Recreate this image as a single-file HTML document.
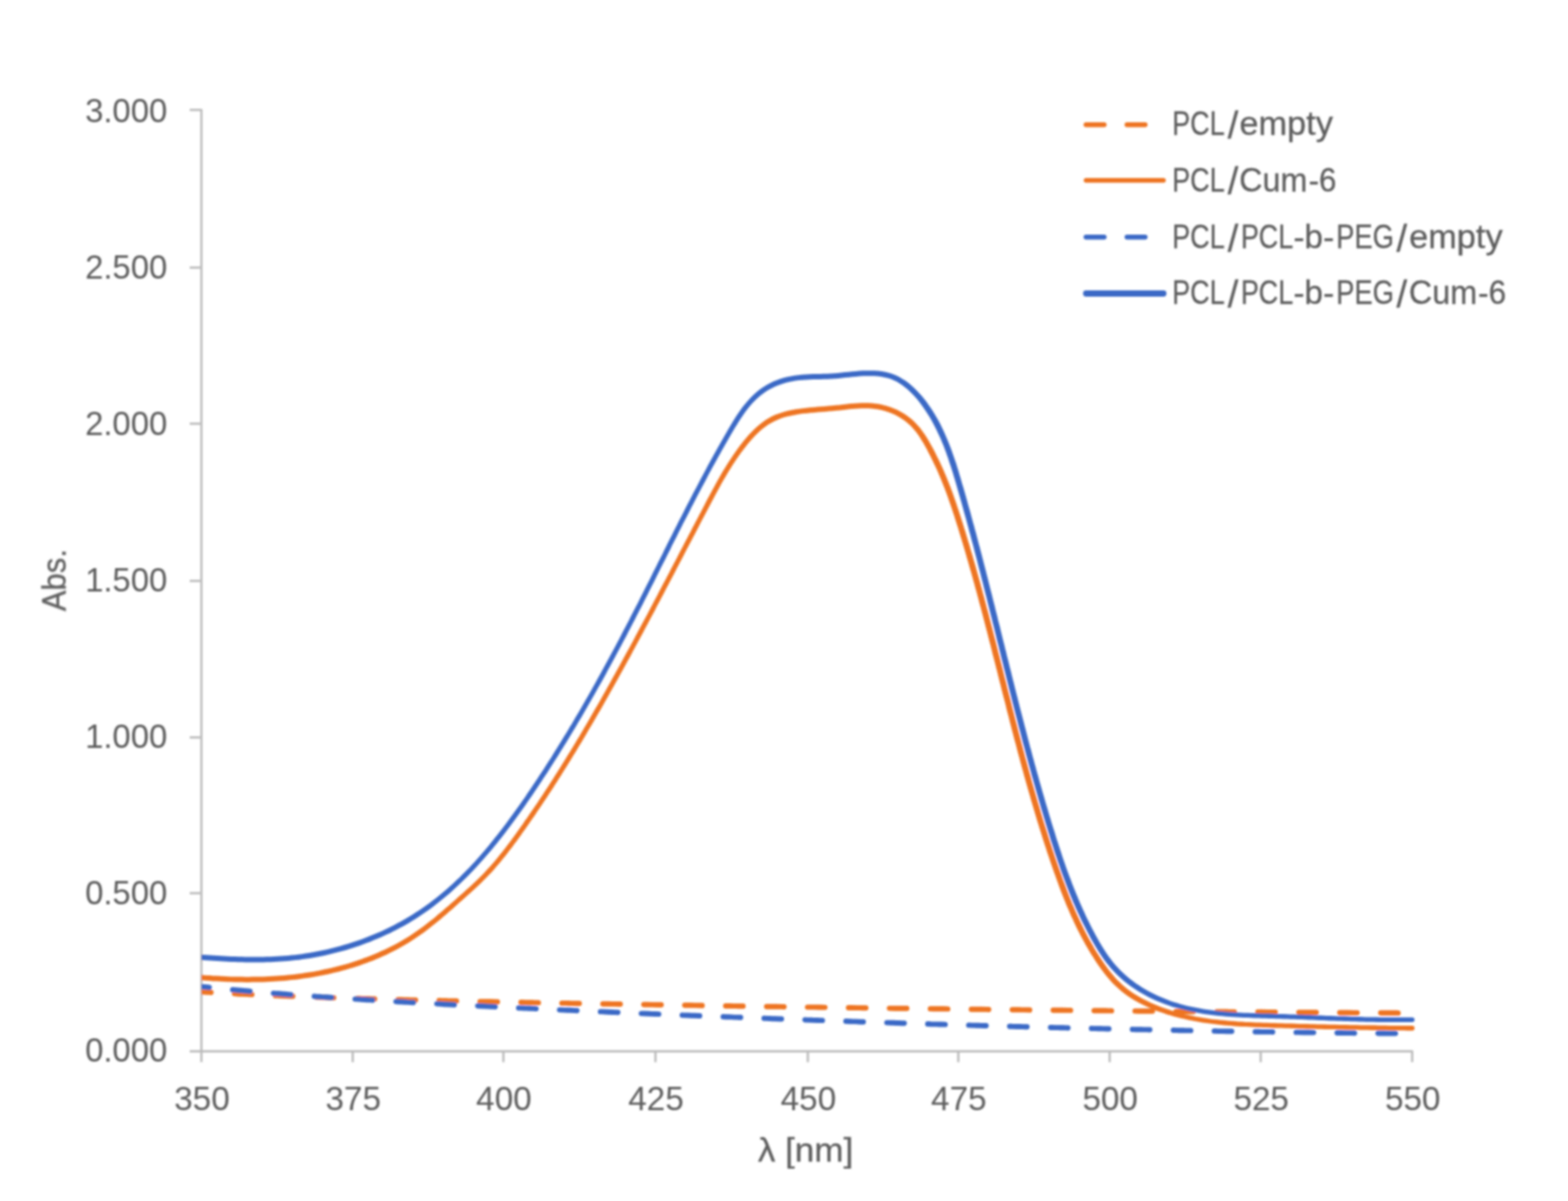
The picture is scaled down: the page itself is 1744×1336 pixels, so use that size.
<!DOCTYPE html>
<html lang="en"><head><meta charset="utf-8"><title>Absorbance spectra</title>
<style>html,body{margin:0;padding:0;background:#fff}body{width:1744px;height:1336px;overflow:hidden}svg{display:block}text{font-family:"Liberation Sans",sans-serif;font-size:36.5px;fill:#5d5d5d}.b{stroke:#5d5d5d;stroke-width:0.3px}</style></head><body>
<svg width="1744" height="1336" viewBox="0 0 1744 1336">
<rect width="1744" height="1336" fill="#fff"/>
<defs><clipPath id="plot"><rect x="224.0" y="0" width="1349.9" height="1336"/></clipPath><filter id="b" x="-5%" y="-5%" width="110%" height="110%"><feGaussianBlur stdDeviation="0.9"/></filter></defs>
<g filter="url(#b)">
<g fill="none" stroke="#bbbbbb" stroke-width="2.5" stroke-linecap="butt" stroke-linejoin="round">
<path d="M211.0 122.3 H224.0 V1181.6"/>
<path d="M211.0 1169.6 H1570.7 V1181.6"/>
<path d="M211 993.6 H224.0"/>
<path d="M211 820.3 H224.0"/>
<path d="M211 646.2 H224.0"/>
<path d="M211 471.3 H224.0"/>
<path d="M211 297.7 H224.0"/>
<path d="M392.3 1169.6 V1181.6"/>
<path d="M559.9 1169.6 V1181.6"/>
<path d="M729.0 1169.6 V1181.6"/>
<path d="M898.5 1169.6 V1181.6"/>
<path d="M1065.9 1169.6 V1181.6"/>
<path d="M1234.2 1169.6 V1181.6"/>
<path d="M1402.2 1169.6 V1181.6"/>
</g>
<g fill="none" stroke-linejoin="round" stroke-linecap="round" clip-path="url(#plot)">
<path d="M215.4 1102.9C216.4 1102.9 219.4 1103.1 221.4 1103.2C223.4 1103.3 225.4 1103.5 227.4 1103.6C229.4 1103.7 231.4 1103.8 233.4 1103.9C235.4 1104.0 237.4 1104.2 239.4 1104.3C241.4 1104.4 243.4 1104.5 245.4 1104.6C247.4 1104.7 249.4 1104.8 251.4 1104.9C253.4 1105.0 255.4 1105.1 257.4 1105.2C259.4 1105.3 261.4 1105.4 263.4 1105.5C265.4 1105.7 267.4 1105.7 269.4 1105.8C271.4 1105.9 273.4 1106.0 275.4 1106.1C277.4 1106.2 279.4 1106.3 281.4 1106.4C283.4 1106.5 285.4 1106.6 287.4 1106.7C289.4 1106.8 291.4 1106.9 293.4 1107.0C295.4 1107.0 297.4 1107.1 299.4 1107.2C301.4 1107.3 303.4 1107.4 305.4 1107.5C307.4 1107.6 309.4 1107.6 311.4 1107.7C313.4 1107.8 315.4 1107.9 317.4 1108.0C319.4 1108.0 321.4 1108.1 323.4 1108.2C325.4 1108.3 327.4 1108.3 329.4 1108.4C331.4 1108.5 333.4 1108.6 335.4 1108.6C337.4 1108.7 339.4 1108.8 341.4 1108.9C343.4 1108.9 345.4 1109.0 347.4 1109.1C349.4 1109.1 351.4 1109.2 353.4 1109.3C355.4 1109.3 357.4 1109.4 359.4 1109.5C361.4 1109.6 363.4 1109.6 365.4 1109.7C367.4 1109.7 369.4 1109.8 371.4 1109.9C373.4 1109.9 375.4 1110.0 377.4 1110.1C379.4 1110.1 381.4 1110.2 383.4 1110.3C385.4 1110.3 387.4 1110.4 389.4 1110.4C391.4 1110.5 393.4 1110.6 395.4 1110.6C397.4 1110.7 399.4 1110.7 401.4 1110.8C403.4 1110.8 405.4 1110.9 407.4 1111.0C409.4 1111.0 411.4 1111.1 413.4 1111.1C415.4 1111.2 417.4 1111.2 419.4 1111.3C421.4 1111.4 423.4 1111.4 425.4 1111.5C427.4 1111.5 429.4 1111.6 431.4 1111.6C433.4 1111.7 435.4 1111.7 437.4 1111.8C439.4 1111.8 441.4 1111.9 443.4 1112.0C445.4 1112.0 447.4 1112.1 449.4 1112.1C451.4 1112.2 453.4 1112.2 455.4 1112.3C457.4 1112.3 459.4 1112.4 461.4 1112.4C463.4 1112.5 465.4 1112.5 467.4 1112.6C469.4 1112.6 471.4 1112.7 473.4 1112.7C475.4 1112.8 477.4 1112.8 479.4 1112.9C481.4 1112.9 483.4 1112.9 485.4 1113.0C487.4 1113.0 489.4 1113.1 491.4 1113.1C493.4 1113.2 495.4 1113.2 497.4 1113.3C499.4 1113.3 501.4 1113.4 503.4 1113.4C505.4 1113.5 507.4 1113.5 509.4 1113.5C511.4 1113.6 513.4 1113.6 515.4 1113.7C517.4 1113.7 519.4 1113.8 521.4 1113.8C523.4 1113.9 525.4 1113.9 527.4 1113.9C529.4 1114.0 531.4 1114.0 533.4 1114.1C535.4 1114.1 537.4 1114.2 539.4 1114.2C541.4 1114.2 543.4 1114.3 545.4 1114.3C547.4 1114.4 549.4 1114.4 551.4 1114.4C553.4 1114.5 555.4 1114.5 557.4 1114.6C559.4 1114.6 561.4 1114.6 563.4 1114.7C565.4 1114.7 567.4 1114.8 569.4 1114.8C571.4 1114.8 573.4 1114.9 575.4 1114.9C577.4 1115.0 579.4 1115.0 581.4 1115.0C583.4 1115.1 585.4 1115.1 587.4 1115.2C589.4 1115.2 591.4 1115.2 593.4 1115.3C595.4 1115.3 597.4 1115.4 599.4 1115.4C601.4 1115.4 603.4 1115.5 605.4 1115.5C607.4 1115.5 609.4 1115.6 611.4 1115.6C613.4 1115.7 615.4 1115.7 617.4 1115.7C619.4 1115.8 621.4 1115.8 623.4 1115.8C625.4 1115.9 627.4 1115.9 629.4 1115.9C631.4 1116.0 633.4 1116.0 635.4 1116.1C637.4 1116.1 639.4 1116.1 641.4 1116.2C643.4 1116.2 645.4 1116.2 647.4 1116.3C649.4 1116.3 651.4 1116.4 653.4 1116.4C655.4 1116.4 657.4 1116.5 659.4 1116.5C661.4 1116.5 663.4 1116.6 665.4 1116.6C667.4 1116.6 669.4 1116.7 671.4 1116.7C673.4 1116.7 675.4 1116.8 677.4 1116.8C679.4 1116.8 681.4 1116.9 683.4 1116.9C685.4 1117.0 687.4 1117.0 689.4 1117.0C691.4 1117.1 693.4 1117.1 695.4 1117.1C697.4 1117.2 699.4 1117.2 701.4 1117.2C703.4 1117.3 705.4 1117.3 707.4 1117.3C709.4 1117.4 711.4 1117.4 713.4 1117.4C715.4 1117.5 717.4 1117.5 719.4 1117.5C721.4 1117.6 723.4 1117.6 725.4 1117.6C727.4 1117.7 729.4 1117.7 731.4 1117.7C733.4 1117.8 735.4 1117.8 737.4 1117.8C739.4 1117.9 741.4 1117.9 743.4 1117.9C745.4 1118.0 747.4 1118.0 749.4 1118.0C751.4 1118.1 753.4 1118.1 755.4 1118.1C757.4 1118.2 759.4 1118.2 761.4 1118.2C763.4 1118.3 765.4 1118.3 767.4 1118.3C769.4 1118.4 771.4 1118.4 773.4 1118.4C775.4 1118.5 777.4 1118.5 779.4 1118.5C781.4 1118.6 783.4 1118.6 785.4 1118.6C787.4 1118.7 789.4 1118.7 791.4 1118.7C793.4 1118.8 795.4 1118.8 797.4 1118.8C799.4 1118.9 801.4 1118.9 803.4 1118.9C805.4 1118.9 807.4 1119.0 809.4 1119.0C811.4 1119.0 813.4 1119.1 815.4 1119.1C817.4 1119.1 819.4 1119.2 821.4 1119.2C823.4 1119.2 825.4 1119.3 827.4 1119.3C829.4 1119.3 831.4 1119.3 833.4 1119.4C835.4 1119.4 837.4 1119.4 839.4 1119.5C841.4 1119.5 843.4 1119.5 845.4 1119.6C847.4 1119.6 849.4 1119.6 851.4 1119.7C853.4 1119.7 855.4 1119.7 857.4 1119.7C859.4 1119.8 861.4 1119.8 863.4 1119.8C865.4 1119.9 867.4 1119.9 869.4 1119.9C871.4 1119.9 873.4 1120.0 875.4 1120.0C877.4 1120.0 879.4 1120.1 881.4 1120.1C883.4 1120.1 885.4 1120.2 887.4 1120.2C889.4 1120.2 891.4 1120.2 893.4 1120.3C895.4 1120.3 897.4 1120.3 899.4 1120.4C901.4 1120.4 903.4 1120.4 905.4 1120.4C907.4 1120.5 909.4 1120.5 911.4 1120.5C913.4 1120.6 915.4 1120.6 917.4 1120.6C919.4 1120.6 921.4 1120.7 923.4 1120.7C925.4 1120.7 927.4 1120.8 929.4 1120.8C931.4 1120.8 933.4 1120.8 935.4 1120.9C937.4 1120.9 939.4 1120.9 941.4 1120.9C943.4 1121.0 945.4 1121.0 947.4 1121.0C949.4 1121.1 951.4 1121.1 953.4 1121.1C955.4 1121.1 957.4 1121.2 959.4 1121.2C961.4 1121.2 963.4 1121.2 965.4 1121.3C967.4 1121.3 969.4 1121.3 971.4 1121.3C973.4 1121.4 975.4 1121.4 977.4 1121.4C979.4 1121.5 981.4 1121.5 983.4 1121.5C985.4 1121.5 987.4 1121.6 989.4 1121.6C991.4 1121.6 993.4 1121.6 995.4 1121.7C997.4 1121.7 999.4 1121.7 1001.4 1121.7C1003.4 1121.8 1005.4 1121.8 1007.4 1121.8C1009.4 1121.8 1011.4 1121.9 1013.4 1121.9C1015.4 1121.9 1017.4 1121.9 1019.4 1122.0C1021.4 1122.0 1023.4 1122.0 1025.4 1122.0C1027.4 1122.1 1029.4 1122.1 1031.4 1122.1C1033.4 1122.1 1035.4 1122.2 1037.4 1122.2C1039.4 1122.2 1041.4 1122.2 1043.4 1122.3C1045.4 1122.3 1047.4 1122.3 1049.4 1122.3C1051.4 1122.4 1053.4 1122.4 1055.4 1122.4C1057.4 1122.4 1059.4 1122.5 1061.4 1122.5C1063.4 1122.5 1065.4 1122.5 1067.4 1122.6C1069.4 1122.6 1071.4 1122.6 1073.4 1122.6C1075.4 1122.7 1077.4 1122.7 1079.4 1122.7C1081.4 1122.7 1083.4 1122.8 1085.4 1122.8C1087.4 1122.8 1089.4 1122.8 1091.4 1122.8C1093.4 1122.9 1095.4 1122.9 1097.4 1122.9C1099.4 1122.9 1101.4 1123.0 1103.4 1123.0C1105.4 1123.0 1107.4 1123.0 1109.4 1123.1C1111.4 1123.1 1113.4 1123.1 1115.4 1123.1C1117.4 1123.1 1119.4 1123.2 1121.4 1123.2C1123.4 1123.2 1125.4 1123.2 1127.4 1123.3C1129.4 1123.3 1131.4 1123.3 1133.4 1123.3C1135.4 1123.3 1137.4 1123.4 1139.4 1123.4C1141.4 1123.4 1143.4 1123.4 1145.4 1123.5C1147.4 1123.5 1149.4 1123.5 1151.4 1123.5C1153.4 1123.5 1155.4 1123.6 1157.4 1123.6C1159.4 1123.6 1161.4 1123.6 1163.4 1123.6C1165.4 1123.7 1167.4 1123.7 1169.4 1123.7C1171.4 1123.7 1173.4 1123.8 1175.4 1123.8C1177.4 1123.8 1179.4 1123.8 1181.4 1123.8C1183.4 1123.9 1185.4 1123.9 1187.4 1123.9C1189.4 1123.9 1191.4 1123.9 1193.4 1124.0C1195.4 1124.0 1197.4 1124.0 1199.4 1124.0C1201.4 1124.0 1203.4 1124.1 1205.4 1124.1C1207.4 1124.1 1209.4 1124.1 1211.4 1124.1C1213.4 1124.2 1215.4 1124.2 1217.4 1124.2C1219.4 1124.2 1221.4 1124.2 1223.4 1124.3C1225.4 1124.3 1227.4 1124.3 1229.4 1124.3C1231.4 1124.3 1233.4 1124.4 1235.4 1124.4C1237.4 1124.4 1239.4 1124.4 1241.4 1124.4C1243.4 1124.5 1245.4 1124.5 1247.4 1124.5C1249.4 1124.5 1251.4 1124.5 1253.4 1124.6C1255.4 1124.6 1257.4 1124.6 1259.4 1124.6C1261.4 1124.6 1263.4 1124.7 1265.4 1124.7C1267.4 1124.7 1269.4 1124.7 1271.4 1124.7C1273.4 1124.7 1275.4 1124.8 1277.4 1124.8C1279.4 1124.8 1281.4 1124.8 1283.4 1124.8C1285.4 1124.9 1287.4 1124.9 1289.4 1124.9C1291.4 1124.9 1293.4 1124.9 1295.4 1124.9C1297.4 1125.0 1299.4 1125.0 1301.4 1125.0C1303.4 1125.0 1305.4 1125.0 1307.4 1125.1C1309.4 1125.1 1311.4 1125.1 1313.4 1125.1C1315.4 1125.1 1317.4 1125.1 1319.4 1125.2C1321.4 1125.2 1323.4 1125.2 1325.4 1125.2C1327.4 1125.2 1329.4 1125.2 1331.4 1125.3C1333.4 1125.3 1335.4 1125.3 1337.4 1125.3C1339.4 1125.3 1341.4 1125.3 1343.4 1125.4C1345.4 1125.4 1347.4 1125.4 1349.4 1125.4C1351.4 1125.4 1353.4 1125.4 1355.4 1125.5C1357.4 1125.5 1359.4 1125.5 1361.4 1125.5C1363.4 1125.5 1365.4 1125.5 1367.4 1125.6C1369.4 1125.6 1371.4 1125.6 1373.4 1125.6C1375.4 1125.6 1377.4 1125.6 1379.4 1125.7C1381.4 1125.7 1383.4 1125.7 1385.4 1125.7C1387.4 1125.7 1389.4 1125.7 1391.4 1125.7C1393.4 1125.8 1395.4 1125.8 1397.4 1125.8C1399.4 1125.8 1401.4 1125.8 1403.4 1125.8C1405.4 1125.9 1407.4 1125.9 1409.4 1125.9C1411.4 1125.9 1413.4 1125.9 1415.4 1125.9C1417.4 1125.9 1419.4 1126.0 1421.4 1126.0C1423.4 1126.0 1425.4 1126.0 1427.4 1126.0C1429.4 1126.0 1431.4 1126.0 1433.4 1126.1C1435.4 1126.1 1437.4 1126.1 1439.4 1126.1C1441.4 1126.1 1443.4 1126.1 1445.4 1126.1C1447.4 1126.2 1449.4 1126.2 1451.4 1126.2C1453.4 1126.2 1455.4 1126.2 1457.4 1126.2C1459.4 1126.2 1461.4 1126.3 1463.4 1126.3C1465.4 1126.3 1467.4 1126.3 1469.4 1126.3C1471.4 1126.3 1473.4 1126.3 1475.4 1126.4C1477.4 1126.4 1479.4 1126.4 1481.4 1126.4C1483.4 1126.4 1485.4 1126.4 1487.4 1126.4C1489.4 1126.4 1491.4 1126.5 1493.4 1126.5C1495.4 1126.5 1497.4 1126.5 1499.4 1126.5C1501.4 1126.5 1503.4 1126.5 1505.4 1126.6C1507.4 1126.6 1509.4 1126.6 1511.4 1126.6C1513.4 1126.6 1515.4 1126.6 1517.4 1126.6C1519.4 1126.6 1521.4 1126.7 1523.4 1126.7C1525.4 1126.7 1527.4 1126.7 1529.4 1126.7C1531.4 1126.7 1533.4 1126.7 1535.4 1126.7C1537.4 1126.8 1539.4 1126.8 1541.4 1126.8C1543.4 1126.8 1545.4 1126.8 1547.4 1126.8C1549.4 1126.8 1551.4 1126.8 1553.4 1126.8C1555.4 1126.9 1557.4 1126.9 1559.4 1126.9C1561.4 1126.9 1563.5 1126.9 1565.4 1126.9C1567.3 1126.9 1569.8 1126.9 1570.7 1126.9" stroke="#ee7522" stroke-width="5.9" stroke-dasharray="19.3 26.24"/>
<path d="M204.6 1088.8L208.7 1089.1L212.7 1089.5L216.7 1089.9L220.8 1090.2L224.8 1090.5L228.8 1090.8L232.8 1091.1L236.8 1091.4L240.9 1091.6L244.9 1091.8L248.9 1092.0L252.9 1092.2L256.9 1092.3L260.9 1092.5L264.9 1092.6L268.9 1092.6L272.9 1092.7L276.9 1092.7L280.9 1092.6L284.9 1092.6L288.9 1092.5L292.9 1092.4L297.0 1092.2L301.0 1092.0L305.0 1091.8L309.0 1091.5L313.0 1091.3L317.0 1090.9L321.0 1090.5L325.0 1090.1L329.0 1089.7L333.0 1089.2L337.0 1088.6L341.0 1088.1L345.0 1087.4L349.0 1086.8L353.0 1086.1L356.9 1085.3L360.9 1084.5L364.9 1083.7L368.8 1082.8L372.8 1081.8L376.7 1080.9L380.7 1079.8L384.6 1078.8L388.5 1077.6L392.3 1076.5L396.2 1075.2L400.1 1074.0L403.9 1072.6L407.7 1071.3L411.5 1069.8L415.2 1068.4L419.0 1066.8L422.7 1065.2L426.4 1063.6L430.0 1061.9L433.7 1060.1L437.3 1058.3L440.8 1056.5L444.4 1054.5L447.9 1052.6L451.4 1050.5L454.8 1048.4L458.2 1046.3L461.6 1044.1L464.9 1041.8L468.2 1039.5L471.5 1037.2L474.7 1034.8L477.9 1032.3L481.0 1029.8L484.2 1027.3L487.3 1024.7L490.4 1022.2L493.4 1019.6L496.5 1016.9L499.5 1014.3L502.6 1011.7L505.6 1009.0L508.6 1006.3L511.6 1003.6L514.6 1001.0L517.6 998.3L520.6 995.6L523.5 992.9L526.5 990.2L529.5 987.5L532.4 984.7L535.3 981.9L538.2 979.1L541.0 976.2L543.8 973.3L546.6 970.4L549.3 967.4L551.9 964.3L554.6 961.3L557.1 958.2L559.7 955.1L562.2 951.9L564.7 948.8L567.1 945.6L569.6 942.4L572.0 939.1L574.4 935.9L576.7 932.7L579.1 929.4L581.4 926.1L583.7 922.9L586.1 919.6L588.4 916.3L590.6 913.0L592.9 909.7L595.2 906.4L597.4 903.1L599.7 899.8L601.9 896.4L604.2 893.1L606.4 889.8L608.6 886.4L610.8 883.1L613.0 879.7L615.2 876.4L617.3 873.0L619.5 869.7L621.6 866.3L623.8 862.9L625.9 859.5L628.1 856.1L630.2 852.7L632.3 849.3L634.4 845.9L636.5 842.5L638.6 839.1L640.7 835.7L642.7 832.3L644.8 828.8L646.9 825.4L648.9 822.0L651.0 818.5L653.0 815.1L655.0 811.6L657.0 808.2L659.1 804.7L661.1 801.3L663.1 797.8L665.1 794.3L667.1 790.9L669.1 787.4L671.1 783.9L673.0 780.4L675.0 776.9L677.0 773.5L678.9 770.0L680.9 766.5L682.9 763.0L684.8 759.5L686.8 756.0L688.7 752.5L690.6 749.0L692.6 745.5L694.5 741.9L696.4 738.4L698.3 734.9L700.3 731.4L702.2 727.9L704.1 724.3L706.0 720.8L707.9 717.3L709.8 713.8L711.7 710.2L713.6 706.7L715.5 703.2L717.4 699.6L719.3 696.1L721.2 692.6L723.0 689.0L724.9 685.5L726.8 681.9L728.7 678.4L730.5 674.8L732.4 671.3L734.3 667.8L736.1 664.2L738.0 660.7L739.9 657.1L741.7 653.6L743.6 650.0L745.4 646.5L747.3 643.0L749.1 639.4L751.0 635.9L752.8 632.3L754.7 628.8L756.5 625.2L758.4 621.7L760.2 618.2L762.1 614.6L763.9 611.1L765.8 607.5L767.6 604.0L769.5 600.5L771.3 596.9L773.2 593.4L775.0 589.9L776.8 586.4L778.7 582.8L780.5 579.3L782.4 575.8L784.2 572.3L786.1 568.7L787.9 565.2L789.8 561.7L791.6 558.2L793.5 554.7L795.3 551.2L797.2 547.7L799.1 544.2L801.0 540.8L802.9 537.3L804.9 533.8L806.9 530.4L808.9 527.0L811.0 523.6L813.1 520.2L815.2 516.8L817.4 513.5L819.7 510.1L822.0 506.8L824.3 503.5L826.8 500.2L829.3 497.0L831.8 493.8L834.4 490.7L837.1 487.7L839.8 484.7L842.7 481.9L845.5 479.3L848.5 476.8L851.5 474.4L854.6 472.3L857.8 470.4L861.0 468.7L864.3 467.2L867.7 465.8L871.2 464.6L874.8 463.6L878.5 462.7L882.2 461.9L886.0 461.2L889.8 460.6L893.7 460.1L897.7 459.7L901.6 459.3L905.7 458.9L909.7 458.6L913.8 458.3L917.9 458.0L922.0 457.6L926.1 457.2L930.2 456.8L934.2 456.4L938.3 455.9L942.3 455.5L946.3 455.1L950.3 454.7L954.2 454.4L958.1 454.3L962.0 454.2L965.8 454.3L969.6 454.5L973.4 454.9L977.1 455.5L980.8 456.2L984.4 457.2L988.1 458.4L991.6 459.7L995.1 461.2L998.4 463.0L1001.7 464.9L1004.8 467.0L1007.8 469.2L1010.7 471.7L1013.4 474.3L1015.9 477.1L1018.4 480.0L1020.7 483.1L1022.9 486.3L1025.0 489.7L1027.1 493.1L1029.0 496.6L1031.0 500.1L1032.8 503.7L1034.7 507.3L1036.4 510.8L1038.2 514.4L1039.9 518.0L1041.6 521.6L1043.2 525.3L1044.8 528.9L1046.3 532.5L1047.8 536.2L1049.3 539.9L1050.7 543.6L1052.1 547.3L1053.5 551.0L1054.8 554.8L1056.1 558.5L1057.4 562.3L1058.7 566.1L1059.9 569.8L1061.2 573.6L1062.4 577.4L1063.6 581.2L1064.8 585.0L1066.0 588.8L1067.1 592.6L1068.3 596.4L1069.5 600.3L1070.6 604.1L1071.8 607.9L1072.9 611.7L1074.0 615.6L1075.1 619.4L1076.2 623.2L1077.3 627.0L1078.4 630.9L1079.5 634.7L1080.6 638.6L1081.7 642.4L1082.7 646.2L1083.8 650.1L1084.8 653.9L1085.9 657.8L1086.9 661.6L1088.0 665.5L1089.0 669.4L1090.0 673.2L1091.1 677.1L1092.1 680.9L1093.1 684.8L1094.1 688.7L1095.1 692.5L1096.1 696.4L1097.1 700.3L1098.1 704.1L1099.1 708.0L1100.1 711.9L1101.1 715.7L1102.1 719.6L1103.1 723.5L1104.0 727.4L1105.0 731.2L1106.0 735.1L1107.0 739.0L1108.0 742.9L1109.0 746.7L1109.9 750.6L1110.9 754.5L1111.9 758.4L1112.9 762.2L1113.8 766.1L1114.8 770.0L1115.8 773.9L1116.8 777.8L1117.8 781.6L1118.8 785.5L1119.7 789.4L1120.7 793.3L1121.7 797.1L1122.7 801.0L1123.7 804.9L1124.7 808.8L1125.7 812.7L1126.7 816.5L1127.7 820.4L1128.7 824.3L1129.8 828.1L1130.8 832.0L1131.8 835.9L1132.8 839.8L1133.9 843.6L1134.9 847.5L1136.0 851.4L1137.0 855.2L1138.1 859.1L1139.1 862.9L1140.2 866.8L1141.3 870.7L1142.4 874.5L1143.5 878.4L1144.6 882.2L1145.7 886.1L1146.8 889.9L1147.9 893.8L1149.0 897.6L1150.2 901.5L1151.3 905.3L1152.5 909.2L1153.6 913.0L1154.8 916.8L1156.0 920.7L1157.2 924.5L1158.4 928.3L1159.6 932.2L1160.8 936.0L1162.0 939.8L1163.3 943.6L1164.5 947.4L1165.8 951.2L1167.1 955.1L1168.4 958.9L1169.7 962.7L1171.0 966.5L1172.3 970.3L1173.7 974.1L1175.0 977.8L1176.4 981.6L1177.8 985.4L1179.2 989.2L1180.6 992.9L1182.1 996.7L1183.6 1000.4L1185.1 1004.2L1186.6 1007.9L1188.2 1011.6L1189.8 1015.3L1191.4 1019.0L1193.1 1022.6L1194.7 1026.3L1196.5 1029.9L1198.2 1033.6L1200.0 1037.1L1201.9 1040.7L1203.8 1044.3L1205.7 1047.8L1207.6 1051.3L1209.7 1054.8L1211.7 1058.3L1213.8 1061.7L1216.0 1065.1L1218.1 1068.5L1220.4 1071.9L1222.7 1075.2L1225.1 1078.5L1227.5 1081.8L1230.0 1085.0L1232.6 1088.1L1235.3 1091.2L1238.1 1094.2L1241.0 1097.0L1244.0 1099.8L1247.1 1102.5L1250.3 1105.0L1253.6 1107.4L1257.0 1109.7L1260.5 1111.9L1264.1 1114.0L1267.7 1116.0L1271.3 1117.8L1275.0 1119.6L1278.8 1121.3L1282.6 1122.9L1286.4 1124.4L1290.2 1125.8L1294.1 1127.1L1298.0 1128.4L1301.8 1129.6L1305.7 1130.7L1309.6 1131.7L1313.6 1132.7L1317.5 1133.6L1321.4 1134.5L1325.3 1135.3L1329.3 1136.1L1333.3 1136.8L1337.2 1137.4L1341.2 1138.0L1345.2 1138.6L1349.1 1139.1L1353.1 1139.6L1357.1 1140.0L1361.1 1140.4L1365.1 1140.8L1369.1 1141.1L1373.1 1141.4L1377.1 1141.7L1381.1 1141.9L1385.2 1142.1L1389.2 1142.3L1393.2 1142.5L1397.2 1142.7L1401.2 1142.8L1405.2 1143.0L1409.2 1143.1L1413.2 1143.2L1417.2 1143.4L1421.3 1143.5L1425.3 1143.6L1429.3 1143.7L1433.3 1143.8L1437.3 1143.9L1441.3 1144.0L1445.3 1144.2L1449.3 1144.3L1453.3 1144.4L1457.3 1144.5L1461.3 1144.6L1465.3 1144.7L1469.3 1144.8L1473.3 1144.9L1477.3 1145.0L1481.3 1145.0L1485.3 1145.1L1489.2 1145.2L1493.2 1145.3L1497.2 1145.4L1501.2 1145.5L1505.2 1145.5L1509.2 1145.6L1513.2 1145.7L1517.2 1145.8L1521.2 1145.8L1525.2 1145.9L1529.2 1145.9L1533.2 1146.0L1537.2 1146.1L1541.2 1146.1L1545.2 1146.2L1549.2 1146.2L1553.2 1146.2L1557.2 1146.3L1561.3 1146.3L1565.3 1146.4L1569.3 1146.4L1570.7 1146.4A2.65 2.65 0 0 0 1570.7 1141.1L1569.3 1141.1L1565.3 1141.1L1561.3 1141.0L1557.3 1141.0L1553.3 1140.9L1549.3 1140.9L1545.3 1140.9L1541.3 1140.8L1537.3 1140.8L1533.3 1140.7L1529.3 1140.6L1525.3 1140.6L1521.3 1140.5L1517.3 1140.5L1513.3 1140.4L1509.3 1140.3L1505.3 1140.2L1501.3 1140.2L1497.4 1140.1L1493.4 1140.0L1489.4 1139.9L1485.4 1139.8L1481.4 1139.7L1477.4 1139.7L1473.4 1139.6L1469.4 1139.5L1465.4 1139.4L1461.4 1139.3L1457.4 1139.2L1453.4 1139.1L1449.4 1139.0L1445.4 1138.9L1441.4 1138.7L1437.4 1138.6L1433.4 1138.5L1429.4 1138.4L1425.4 1138.3L1421.4 1138.2L1417.4 1138.1L1413.4 1138.0L1409.4 1137.8L1405.4 1137.7L1401.4 1137.6L1397.4 1137.4L1393.4 1137.2L1389.4 1137.1L1385.4 1136.9L1381.5 1136.6L1377.5 1136.4L1373.5 1136.1L1369.5 1135.8L1365.6 1135.5L1361.6 1135.1L1357.7 1134.8L1353.7 1134.3L1349.8 1133.9L1345.9 1133.4L1342.0 1132.8L1338.0 1132.2L1334.1 1131.6L1330.3 1130.9L1326.4 1130.1L1322.5 1129.3L1318.7 1128.5L1314.8 1127.5L1311.0 1126.5L1307.2 1125.5L1303.4 1124.3L1299.7 1123.1L1295.9 1121.8L1292.2 1120.5L1288.5 1119.1L1284.8 1117.6L1281.1 1116.0L1277.5 1114.3L1274.0 1112.6L1270.4 1110.8L1267.0 1108.8L1263.6 1106.8L1260.3 1104.7L1257.1 1102.5L1254.0 1100.2L1251.0 1097.8L1248.1 1095.2L1245.3 1092.6L1242.6 1089.9L1239.9 1087.0L1237.4 1084.1L1234.9 1081.1L1232.5 1078.0L1230.2 1074.8L1227.9 1071.6L1225.7 1068.3L1223.5 1065.0L1221.4 1061.7L1219.3 1058.4L1217.2 1055.0L1215.3 1051.6L1213.3 1048.1L1211.4 1044.7L1209.5 1041.2L1207.7 1037.7L1205.9 1034.2L1204.1 1030.6L1202.4 1027.1L1200.7 1023.5L1199.1 1019.9L1197.4 1016.3L1195.8 1012.7L1194.3 1009.0L1192.7 1005.4L1191.2 1001.7L1189.7 998.0L1188.2 994.3L1186.8 990.6L1185.4 986.8L1184.0 983.1L1182.6 979.4L1181.2 975.6L1179.9 971.8L1178.5 968.1L1177.2 964.3L1175.9 960.5L1174.6 956.7L1173.3 952.9L1172.1 949.2L1170.8 945.4L1169.6 941.6L1168.3 937.8L1167.1 934.0L1165.9 930.2L1164.7 926.3L1163.5 922.5L1162.3 918.7L1161.1 914.9L1159.9 911.1L1158.8 907.3L1157.6 903.4L1156.5 899.6L1155.4 895.8L1154.2 891.9L1153.1 888.1L1152.0 884.3L1150.9 880.4L1149.8 876.6L1148.7 872.7L1147.6 868.9L1146.6 865.0L1145.5 861.2L1144.4 857.3L1143.4 853.5L1142.3 849.6L1141.3 845.8L1140.2 841.9L1139.2 838.1L1138.2 834.2L1137.2 830.3L1136.1 826.5L1135.1 822.6L1134.1 818.7L1133.1 814.9L1132.1 811.0L1131.1 807.1L1130.1 803.3L1129.1 799.4L1128.1 795.5L1127.1 791.6L1126.1 787.8L1125.2 783.9L1124.2 780.0L1123.2 776.1L1122.2 772.3L1121.2 768.4L1120.2 764.5L1119.3 760.6L1118.3 756.8L1117.3 752.9L1116.3 749.0L1115.4 745.1L1114.4 741.2L1113.4 737.4L1112.4 733.5L1111.4 729.6L1110.4 725.7L1109.5 721.9L1108.5 718.0L1107.5 714.1L1106.5 710.2L1105.5 706.4L1104.5 702.5L1103.5 698.6L1102.5 694.7L1101.5 690.9L1100.5 687.0L1099.5 683.1L1098.5 679.3L1097.4 675.4L1096.4 671.5L1095.4 667.7L1094.4 663.8L1093.3 659.9L1092.3 656.1L1091.2 652.2L1090.2 648.3L1089.1 644.5L1088.0 640.6L1086.9 636.8L1085.9 632.9L1084.8 629.1L1083.7 625.2L1082.6 621.4L1081.5 617.5L1080.3 613.7L1079.2 609.9L1078.1 606.0L1076.9 602.2L1075.8 598.4L1074.6 594.5L1073.5 590.7L1072.3 586.9L1071.1 583.0L1069.9 579.2L1068.7 575.4L1067.4 571.6L1066.2 567.8L1064.9 564.0L1063.7 560.2L1062.4 556.4L1061.0 552.6L1059.7 548.8L1058.3 545.0L1056.9 541.2L1055.4 537.5L1053.9 533.7L1052.4 530.0L1050.8 526.3L1049.2 522.6L1047.6 518.9L1045.9 515.2L1044.1 511.6L1042.3 507.9L1040.5 504.3L1038.6 500.6L1036.7 497.0L1034.7 493.4L1032.6 489.8L1030.5 486.3L1028.2 482.8L1025.8 479.4L1023.3 476.1L1020.6 472.9L1017.8 469.9L1014.8 467.1L1011.6 464.4L1008.3 462.0L1004.9 459.7L1001.3 457.7L997.6 455.8L993.9 454.2L990.0 452.7L986.1 451.4L982.2 450.4L978.2 449.6L974.1 448.9L970.1 448.5L966.0 448.3L962.0 448.2L957.9 448.3L953.9 448.5L949.8 448.7L945.7 449.1L941.7 449.5L937.6 449.9L933.6 450.4L929.5 450.8L925.5 451.3L921.4 451.6L917.4 452.0L913.3 452.3L909.2 452.6L905.2 453.0L901.1 453.3L897.0 453.7L893.0 454.2L889.0 454.7L885.0 455.3L881.0 456.0L877.1 456.8L873.3 457.8L869.4 458.9L865.7 460.2L862.0 461.6L858.3 463.3L854.8 465.2L851.4 467.3L848.0 469.7L844.8 472.2L841.6 474.9L838.6 477.7L835.7 480.7L832.8 483.8L830.0 486.9L827.3 490.2L824.7 493.5L822.2 496.8L819.7 500.2L817.4 503.6L815.0 507.0L812.7 510.4L810.5 513.8L808.3 517.2L806.2 520.7L804.1 524.1L802.1 527.6L800.1 531.1L798.1 534.6L796.2 538.1L794.3 541.6L792.4 545.1L790.5 548.6L788.6 552.1L786.7 555.6L784.9 559.1L783.0 562.7L781.2 566.2L779.4 569.7L777.5 573.2L775.7 576.7L773.8 580.3L772.0 583.8L770.1 587.3L768.3 590.9L766.4 594.4L764.6 597.9L762.7 601.5L760.9 605.0L759.1 608.5L757.2 612.1L755.4 615.6L753.5 619.2L751.7 622.7L749.8 626.2L748.0 629.8L746.1 633.3L744.3 636.9L742.4 640.4L740.6 644.0L738.7 647.5L736.8 651.0L735.0 654.6L733.1 658.1L731.3 661.7L729.4 665.2L727.5 668.7L725.7 672.3L723.8 675.8L721.9 679.4L720.1 682.9L718.2 686.4L716.3 690.0L714.4 693.5L712.5 697.0L710.6 700.6L708.8 704.1L706.9 707.6L705.0 711.2L703.1 714.7L701.2 718.2L699.3 721.7L697.3 725.2L695.4 728.8L693.5 732.3L691.6 735.8L689.7 739.3L687.8 742.8L685.8 746.3L683.9 749.8L681.9 753.3L680.0 756.8L678.1 760.3L676.1 763.8L674.2 767.3L672.2 770.8L670.2 774.2L668.3 777.7L666.3 781.2L664.3 784.7L662.3 788.1L660.3 791.6L658.3 795.0L656.3 798.5L654.3 802.0L652.3 805.4L650.3 808.8L648.3 812.3L646.2 815.7L644.2 819.2L642.1 822.6L640.1 826.0L638.0 829.4L636.0 832.8L633.9 836.2L631.8 839.6L629.7 843.0L627.6 846.4L625.5 849.8L623.4 853.2L621.3 856.6L619.1 860.0L617.0 863.3L614.9 866.7L612.7 870.0L610.5 873.4L608.4 876.7L606.2 880.1L604.0 883.4L601.8 886.7L599.6 890.1L597.4 893.4L595.1 896.7L592.9 900.0L590.6 903.3L588.4 906.6L586.1 909.9L583.8 913.1L581.6 916.4L579.2 919.7L576.9 922.9L574.6 926.2L572.3 929.4L569.9 932.7L567.6 935.9L565.2 939.1L562.8 942.2L560.3 945.4L557.9 948.5L555.4 951.6L552.9 954.7L550.4 957.7L547.8 960.7L545.2 963.7L542.5 966.6L539.8 969.5L537.1 972.4L534.3 975.2L531.5 978.0L528.6 980.7L525.7 983.5L522.8 986.2L519.9 988.8L516.9 991.5L513.9 994.2L510.9 996.8L507.9 999.5L504.9 1002.2L501.9 1004.8L498.9 1007.4L495.8 1010.1L492.8 1012.7L489.8 1015.3L486.7 1017.8L483.7 1020.4L480.6 1022.9L477.5 1025.3L474.4 1027.8L471.2 1030.2L468.1 1032.5L464.9 1034.8L461.6 1037.1L458.4 1039.3L455.1 1041.4L451.7 1043.5L448.4 1045.5L445.0 1047.5L441.5 1049.4L438.1 1051.2L434.6 1053.1L431.1 1054.8L427.5 1056.5L423.9 1058.1L420.3 1059.7L416.7 1061.3L413.0 1062.8L409.3 1064.2L405.6 1065.6L401.9 1067.0L398.1 1068.3L394.4 1069.5L390.6 1070.7L386.8 1071.9L382.9 1073.0L379.1 1074.0L375.2 1075.1L371.4 1076.0L367.5 1076.9L363.6 1077.8L359.7 1078.6L355.8 1079.4L351.9 1080.2L347.9 1080.9L344.0 1081.5L340.1 1082.1L336.1 1082.7L332.2 1083.2L328.3 1083.7L324.3 1084.2L320.4 1084.6L316.4 1084.9L312.5 1085.3L308.5 1085.6L304.6 1085.8L300.6 1086.0L296.7 1086.2L292.7 1086.4L288.8 1086.5L284.8 1086.6L280.9 1086.6L276.9 1086.7L273.0 1086.7L269.0 1086.6L265.0 1086.6L261.1 1086.5L257.1 1086.4L253.1 1086.2L249.2 1086.0L245.2 1085.8L241.2 1085.6L237.2 1085.4L233.2 1085.1L229.2 1084.9L225.3 1084.6L221.3 1084.2L217.3 1083.9L213.3 1083.5L209.2 1083.2L205.2 1082.8Z" fill="#ee7522"/>
<path d="M213.5 1096.4C214.5 1096.5 217.5 1096.8 219.5 1097.0C221.5 1097.2 223.5 1097.5 225.5 1097.7C227.5 1097.9 229.5 1098.1 231.5 1098.3C233.5 1098.5 235.5 1098.7 237.5 1098.9C239.5 1099.1 241.5 1099.3 243.5 1099.5C245.5 1099.7 247.5 1099.9 249.5 1100.1C251.5 1100.3 253.5 1100.5 255.5 1100.7C257.5 1100.8 259.5 1101.0 261.5 1101.2C263.5 1101.4 265.5 1101.6 267.5 1101.8C269.5 1102.0 271.5 1102.1 273.5 1102.3C275.5 1102.5 277.5 1102.7 279.5 1102.8C281.5 1103.0 283.5 1103.2 285.5 1103.4C287.5 1103.5 289.5 1103.7 291.5 1103.9C293.5 1104.0 295.5 1104.2 297.5 1104.4C299.5 1104.5 301.5 1104.7 303.5 1104.9C305.5 1105.0 307.5 1105.2 309.5 1105.3C311.5 1105.5 313.5 1105.6 315.5 1105.8C317.5 1106.0 319.5 1106.1 321.5 1106.3C323.5 1106.4 325.5 1106.6 327.5 1106.7C329.5 1106.9 331.5 1107.0 333.5 1107.2C335.5 1107.3 337.5 1107.5 339.5 1107.6C341.5 1107.7 343.5 1107.9 345.5 1108.0C347.5 1108.2 349.5 1108.3 351.5 1108.5C353.5 1108.6 355.5 1108.7 357.5 1108.9C359.5 1109.0 361.5 1109.2 363.5 1109.3C365.5 1109.4 367.5 1109.6 369.5 1109.7C371.5 1109.8 373.5 1110.0 375.5 1110.1C377.5 1110.2 379.5 1110.4 381.5 1110.5C383.5 1110.6 385.5 1110.7 387.5 1110.9C389.5 1111.0 391.5 1111.1 393.5 1111.3C395.5 1111.4 397.5 1111.5 399.5 1111.6C401.5 1111.8 403.5 1111.9 405.5 1112.0C407.5 1112.1 409.5 1112.3 411.5 1112.4C413.5 1112.5 415.5 1112.6 417.5 1112.7C419.5 1112.9 421.5 1113.0 423.5 1113.1C425.5 1113.2 427.5 1113.3 429.5 1113.5C431.5 1113.6 433.5 1113.7 435.5 1113.8C437.5 1113.9 439.5 1114.1 441.5 1114.2C443.5 1114.3 445.5 1114.4 447.5 1114.5C449.5 1114.6 451.5 1114.7 453.5 1114.9C455.5 1115.0 457.5 1115.1 459.5 1115.2C461.5 1115.3 463.5 1115.4 465.5 1115.5C467.5 1115.6 469.5 1115.8 471.5 1115.9C473.5 1116.0 475.5 1116.1 477.5 1116.2C479.5 1116.3 481.5 1116.4 483.5 1116.5C485.5 1116.6 487.5 1116.7 489.5 1116.8C491.5 1116.9 493.5 1117.1 495.5 1117.2C497.5 1117.3 499.5 1117.4 501.5 1117.5C503.5 1117.6 505.5 1117.7 507.5 1117.8C509.5 1117.9 511.5 1118.0 513.5 1118.1C515.5 1118.2 517.5 1118.3 519.5 1118.4C521.5 1118.5 523.5 1118.6 525.5 1118.7C527.5 1118.8 529.5 1118.9 531.5 1119.0C533.5 1119.1 535.5 1119.2 537.5 1119.3C539.5 1119.4 541.5 1119.5 543.5 1119.6C545.5 1119.7 547.5 1119.8 549.5 1119.9C551.5 1120.0 553.5 1120.1 555.5 1120.2C557.5 1120.3 559.5 1120.4 561.5 1120.5C563.5 1120.6 565.5 1120.7 567.5 1120.8C569.5 1120.9 571.5 1121.0 573.5 1121.1C575.5 1121.2 577.5 1121.3 579.5 1121.4C581.5 1121.5 583.5 1121.5 585.5 1121.6C587.5 1121.7 589.5 1121.8 591.5 1121.9C593.5 1122.0 595.5 1122.1 597.5 1122.2C599.5 1122.3 601.5 1122.4 603.5 1122.5C605.5 1122.6 607.5 1122.7 609.5 1122.8C611.5 1122.8 613.5 1122.9 615.5 1123.0C617.5 1123.1 619.5 1123.2 621.5 1123.3C623.5 1123.4 625.5 1123.5 627.5 1123.6C629.5 1123.7 631.5 1123.8 633.5 1123.8C635.5 1123.9 637.5 1124.0 639.5 1124.1C641.5 1124.2 643.5 1124.3 645.5 1124.4C647.5 1124.5 649.5 1124.6 651.5 1124.7C653.5 1124.7 655.5 1124.8 657.5 1124.9C659.5 1125.0 661.5 1125.1 663.5 1125.2C665.5 1125.3 667.5 1125.4 669.5 1125.4C671.5 1125.5 673.5 1125.6 675.5 1125.7C677.5 1125.8 679.5 1125.9 681.5 1126.0C683.5 1126.1 685.5 1126.1 687.5 1126.2C689.5 1126.3 691.5 1126.4 693.5 1126.5C695.5 1126.6 697.5 1126.7 699.5 1126.7C701.5 1126.8 703.5 1126.9 705.5 1127.0C707.5 1127.1 709.5 1127.2 711.5 1127.3C713.5 1127.3 715.5 1127.4 717.5 1127.5C719.5 1127.6 721.5 1127.7 723.5 1127.8C725.5 1127.8 727.5 1127.9 729.5 1128.0C731.5 1128.1 733.5 1128.2 735.5 1128.3C737.5 1128.3 739.5 1128.4 741.5 1128.5C743.5 1128.6 745.5 1128.7 747.5 1128.8C749.5 1128.8 751.5 1128.9 753.5 1129.0C755.5 1129.1 757.5 1129.2 759.5 1129.3C761.5 1129.3 763.5 1129.4 765.5 1129.5C767.5 1129.6 769.5 1129.7 771.5 1129.7C773.5 1129.8 775.5 1129.9 777.5 1130.0C779.5 1130.1 781.5 1130.1 783.5 1130.2C785.5 1130.3 787.5 1130.4 789.5 1130.5C791.5 1130.5 793.5 1130.6 795.5 1130.7C797.5 1130.8 799.5 1130.9 801.5 1130.9C803.5 1131.0 805.5 1131.1 807.5 1131.2C809.5 1131.3 811.5 1131.3 813.5 1131.4C815.5 1131.5 817.5 1131.6 819.5 1131.6C821.5 1131.7 823.5 1131.8 825.5 1131.9C827.5 1132.0 829.5 1132.0 831.5 1132.1C833.5 1132.2 835.5 1132.3 837.5 1132.3C839.5 1132.4 841.5 1132.5 843.5 1132.6C845.5 1132.6 847.5 1132.7 849.5 1132.8C851.5 1132.9 853.5 1132.9 855.5 1133.0C857.5 1133.1 859.5 1133.2 861.5 1133.2C863.5 1133.3 865.5 1133.4 867.5 1133.5C869.5 1133.5 871.5 1133.6 873.5 1133.7C875.5 1133.8 877.5 1133.8 879.5 1133.9C881.5 1134.0 883.5 1134.1 885.5 1134.1C887.5 1134.2 889.5 1134.3 891.5 1134.3C893.5 1134.4 895.5 1134.5 897.5 1134.6C899.5 1134.6 901.5 1134.7 903.5 1134.8C905.5 1134.8 907.5 1134.9 909.5 1135.0C911.5 1135.1 913.5 1135.1 915.5 1135.2C917.5 1135.3 919.5 1135.3 921.5 1135.4C923.5 1135.5 925.5 1135.6 927.5 1135.6C929.5 1135.7 931.5 1135.8 933.5 1135.8C935.5 1135.9 937.5 1136.0 939.5 1136.0C941.5 1136.1 943.5 1136.2 945.5 1136.2C947.5 1136.3 949.5 1136.4 951.5 1136.4C953.5 1136.5 955.5 1136.6 957.5 1136.7C959.5 1136.7 961.5 1136.8 963.5 1136.9C965.5 1136.9 967.5 1137.0 969.5 1137.1C971.5 1137.1 973.5 1137.2 975.5 1137.3C977.5 1137.3 979.5 1137.4 981.5 1137.5C983.5 1137.5 985.5 1137.6 987.5 1137.6C989.5 1137.7 991.5 1137.8 993.5 1137.8C995.5 1137.9 997.5 1138.0 999.5 1138.0C1001.5 1138.1 1003.5 1138.2 1005.5 1138.2C1007.5 1138.3 1009.5 1138.4 1011.5 1138.4C1013.5 1138.5 1015.5 1138.5 1017.5 1138.6C1019.5 1138.7 1021.5 1138.7 1023.5 1138.8C1025.5 1138.9 1027.5 1138.9 1029.5 1139.0C1031.5 1139.0 1033.5 1139.1 1035.5 1139.2C1037.5 1139.2 1039.5 1139.3 1041.5 1139.4C1043.5 1139.4 1045.5 1139.5 1047.5 1139.5C1049.5 1139.6 1051.5 1139.7 1053.5 1139.7C1055.5 1139.8 1057.5 1139.8 1059.5 1139.9C1061.5 1140.0 1063.5 1140.0 1065.5 1140.1C1067.5 1140.1 1069.5 1140.2 1071.5 1140.3C1073.5 1140.3 1075.5 1140.4 1077.5 1140.4C1079.5 1140.5 1081.5 1140.6 1083.5 1140.6C1085.5 1140.7 1087.5 1140.7 1089.5 1140.8C1091.5 1140.8 1093.5 1140.9 1095.5 1141.0C1097.5 1141.0 1099.5 1141.1 1101.5 1141.1C1103.5 1141.2 1105.5 1141.2 1107.5 1141.3C1109.5 1141.3 1111.5 1141.4 1113.5 1141.5C1115.5 1141.5 1117.5 1141.6 1119.5 1141.6C1121.5 1141.7 1123.5 1141.7 1125.5 1141.8C1127.5 1141.8 1129.5 1141.9 1131.5 1142.0C1133.5 1142.0 1135.5 1142.1 1137.5 1142.1C1139.5 1142.2 1141.5 1142.2 1143.5 1142.3C1145.5 1142.3 1147.5 1142.4 1149.5 1142.4C1151.5 1142.5 1153.5 1142.5 1155.5 1142.6C1157.5 1142.6 1159.5 1142.7 1161.5 1142.7C1163.5 1142.8 1165.5 1142.9 1167.5 1142.9C1169.5 1143.0 1171.5 1143.0 1173.5 1143.1C1175.5 1143.1 1177.5 1143.2 1179.5 1143.2C1181.5 1143.3 1183.5 1143.3 1185.5 1143.4C1187.5 1143.4 1189.5 1143.5 1191.5 1143.5C1193.5 1143.6 1195.5 1143.6 1197.5 1143.7C1199.5 1143.7 1201.5 1143.8 1203.5 1143.8C1205.5 1143.8 1207.5 1143.9 1209.5 1143.9C1211.5 1144.0 1213.5 1144.0 1215.5 1144.1C1217.5 1144.1 1219.5 1144.2 1221.5 1144.2C1223.5 1144.3 1225.5 1144.3 1227.5 1144.4C1229.5 1144.4 1231.5 1144.5 1233.5 1144.5C1235.5 1144.6 1237.5 1144.6 1239.5 1144.6C1241.5 1144.7 1243.5 1144.7 1245.5 1144.8C1247.5 1144.8 1249.5 1144.9 1251.5 1144.9C1253.5 1145.0 1255.5 1145.0 1257.5 1145.0C1259.5 1145.1 1261.5 1145.1 1263.5 1145.2C1265.5 1145.2 1267.5 1145.3 1269.5 1145.3C1271.5 1145.3 1273.5 1145.4 1275.5 1145.4C1277.5 1145.5 1279.5 1145.5 1281.5 1145.6C1283.5 1145.6 1285.5 1145.6 1287.5 1145.7C1289.5 1145.7 1291.5 1145.8 1293.5 1145.8C1295.5 1145.8 1297.5 1145.9 1299.5 1145.9C1301.5 1146.0 1303.5 1146.0 1305.5 1146.0C1307.5 1146.1 1309.5 1146.1 1311.5 1146.2C1313.5 1146.2 1315.5 1146.2 1317.5 1146.3C1319.5 1146.3 1321.5 1146.4 1323.5 1146.4C1325.5 1146.4 1327.5 1146.5 1329.5 1146.5C1331.5 1146.6 1333.5 1146.6 1335.5 1146.6C1337.5 1146.7 1339.5 1146.7 1341.5 1146.7C1343.5 1146.8 1345.5 1146.8 1347.5 1146.8C1349.5 1146.9 1351.5 1146.9 1353.5 1147.0C1355.5 1147.0 1357.5 1147.0 1359.5 1147.1C1361.5 1147.1 1363.5 1147.1 1365.5 1147.2C1367.5 1147.2 1369.5 1147.2 1371.5 1147.3C1373.5 1147.3 1375.5 1147.3 1377.5 1147.4C1379.5 1147.4 1381.5 1147.4 1383.5 1147.5C1385.5 1147.5 1387.5 1147.5 1389.5 1147.6C1391.5 1147.6 1393.5 1147.6 1395.5 1147.7C1397.5 1147.7 1399.5 1147.7 1401.5 1147.8C1403.5 1147.8 1405.5 1147.8 1407.5 1147.9C1409.5 1147.9 1411.5 1147.9 1413.5 1147.9C1415.5 1148.0 1417.5 1148.0 1419.5 1148.0C1421.5 1148.1 1423.5 1148.1 1425.5 1148.1C1427.5 1148.2 1429.5 1148.2 1431.5 1148.2C1433.5 1148.2 1435.5 1148.3 1437.5 1148.3C1439.5 1148.3 1441.5 1148.4 1443.5 1148.4C1445.5 1148.4 1447.5 1148.4 1449.5 1148.5C1451.5 1148.5 1453.5 1148.5 1455.5 1148.5C1457.5 1148.6 1459.5 1148.6 1461.5 1148.6C1463.5 1148.7 1465.5 1148.7 1467.5 1148.7C1469.5 1148.7 1471.5 1148.8 1473.5 1148.8C1475.5 1148.8 1477.5 1148.8 1479.5 1148.9C1481.5 1148.9 1483.5 1148.9 1485.5 1148.9C1487.5 1149.0 1489.5 1149.0 1491.5 1149.0C1493.5 1149.0 1495.5 1149.0 1497.5 1149.1C1499.5 1149.1 1501.5 1149.1 1503.5 1149.1C1505.5 1149.2 1507.5 1149.2 1509.5 1149.2C1511.5 1149.2 1513.5 1149.2 1515.5 1149.3C1517.5 1149.3 1519.5 1149.3 1521.5 1149.3C1523.5 1149.4 1525.5 1149.4 1527.5 1149.4C1529.5 1149.4 1531.5 1149.4 1533.5 1149.5C1535.5 1149.5 1537.5 1149.5 1539.5 1149.5C1541.5 1149.5 1543.5 1149.5 1545.5 1149.6C1547.5 1149.6 1549.5 1149.6 1551.5 1149.6C1553.5 1149.6 1555.5 1149.7 1557.5 1149.7C1559.5 1149.7 1561.5 1149.7 1563.5 1149.7C1565.5 1149.7 1568.3 1149.8 1569.5 1149.8C1570.7 1149.8 1570.5 1149.8 1570.7 1149.8" stroke="#3a69c6" stroke-width="5.9" stroke-dasharray="19.3 26.24"/>
<path d="M204.6 1066.6L208.7 1066.9L212.8 1067.1L216.8 1067.4L220.9 1067.7L224.9 1068.0L228.9 1068.3L232.9 1068.5L237.0 1068.8L241.0 1069.0L245.0 1069.3L249.0 1069.5L253.0 1069.7L257.0 1069.9L261.0 1070.0L265.0 1070.2L269.0 1070.3L273.0 1070.4L277.0 1070.4L280.9 1070.5L284.9 1070.5L288.9 1070.5L292.9 1070.4L296.9 1070.3L300.9 1070.2L304.8 1070.0L308.8 1069.8L312.8 1069.6L316.8 1069.3L320.8 1069.0L324.8 1068.6L328.8 1068.1L332.8 1067.7L336.8 1067.1L340.8 1066.5L344.8 1065.9L348.8 1065.2L352.8 1064.5L356.8 1063.7L360.7 1062.9L364.7 1062.0L368.7 1061.1L372.6 1060.1L376.6 1059.1L380.5 1058.0L384.5 1056.9L388.4 1055.7L392.3 1054.5L396.1 1053.2L400.0 1051.9L403.9 1050.5L407.7 1049.1L411.5 1047.7L415.3 1046.1L419.1 1044.6L422.8 1043.0L426.5 1041.3L430.2 1039.6L433.9 1037.9L437.5 1036.1L441.1 1034.2L444.7 1032.3L448.2 1030.4L451.8 1028.4L455.2 1026.4L458.7 1024.3L462.1 1022.2L465.5 1020.0L468.8 1017.8L472.1 1015.5L475.4 1013.2L478.6 1010.9L481.9 1008.5L485.0 1006.1L488.2 1003.6L491.3 1001.1L494.3 998.6L497.4 996.0L500.4 993.4L503.4 990.7L506.3 988.1L509.3 985.3L512.2 982.6L515.0 979.8L517.9 977.0L520.7 974.2L523.5 971.3L526.2 968.4L529.0 965.5L531.7 962.6L534.4 959.6L537.1 956.6L539.7 953.6L542.3 950.6L544.9 947.5L547.5 944.4L550.1 941.3L552.6 938.2L555.1 935.1L557.6 931.9L560.1 928.7L562.6 925.5L565.0 922.3L567.5 919.1L569.9 915.8L572.3 912.6L574.6 909.3L577.0 906.0L579.3 902.8L581.7 899.5L584.0 896.2L586.3 892.8L588.6 889.5L590.9 886.2L593.1 882.9L595.4 879.5L597.6 876.2L599.9 872.8L602.1 869.5L604.3 866.1L606.5 862.7L608.7 859.4L610.9 856.0L613.1 852.6L615.2 849.2L617.4 845.8L619.5 842.4L621.7 839.0L623.8 835.6L625.9 832.2L628.0 828.8L630.1 825.4L632.2 822.0L634.3 818.5L636.4 815.1L638.4 811.7L640.5 808.2L642.5 804.8L644.6 801.3L646.6 797.9L648.6 794.4L650.6 791.0L652.6 787.5L654.6 784.0L656.6 780.6L658.6 777.1L660.6 773.6L662.6 770.1L664.5 766.6L666.5 763.1L668.4 759.7L670.4 756.2L672.3 752.7L674.2 749.2L676.1 745.6L678.1 742.1L680.0 738.6L681.9 735.1L683.8 731.6L685.6 728.1L687.5 724.5L689.4 721.0L691.3 717.5L693.1 714.0L695.0 710.4L696.9 706.9L698.7 703.3L700.6 699.8L702.4 696.2L704.2 692.7L706.1 689.2L707.9 685.6L709.7 682.0L711.5 678.5L713.4 674.9L715.2 671.4L717.0 667.8L718.8 664.2L720.6 660.7L722.4 657.1L724.2 653.5L726.0 650.0L727.8 646.4L729.6 642.8L731.3 639.3L733.1 635.7L734.9 632.1L736.7 628.5L738.5 625.0L740.3 621.4L742.1 617.8L743.9 614.2L745.7 610.7L747.4 607.1L749.2 603.5L751.0 600.0L752.8 596.4L754.6 592.8L756.4 589.2L758.2 585.7L760.0 582.1L761.9 578.5L763.7 575.0L765.5 571.4L767.3 567.9L769.1 564.3L771.0 560.7L772.8 557.2L774.7 553.6L776.5 550.1L778.4 546.5L780.2 543.0L782.1 539.4L784.0 535.9L785.8 532.4L787.7 528.8L789.6 525.3L791.5 521.8L793.4 518.2L795.4 514.7L797.3 511.2L799.2 507.7L801.2 504.2L803.1 500.7L805.1 497.2L807.1 493.7L809.1 490.2L811.1 486.7L813.1 483.2L815.2 479.7L817.2 476.3L819.3 472.9L821.4 469.5L823.5 466.2L825.7 462.9L827.9 459.7L830.3 456.6L832.6 453.6L835.1 450.6L837.6 447.8L840.3 445.1L843.0 442.5L845.9 440.1L848.9 437.8L852.0 435.6L855.2 433.6L858.6 431.8L862.1 430.1L865.8 428.6L869.5 427.2L873.3 426.1L877.1 425.1L881.0 424.3L884.8 423.6L888.7 423.1L892.6 422.7L896.5 422.5L900.4 422.3L904.4 422.1L908.4 422.0L912.3 421.9L916.3 421.8L920.3 421.7L924.3 421.5L928.4 421.2L932.4 420.9L936.3 420.5L940.3 420.1L944.3 419.7L948.3 419.3L952.2 418.9L956.2 418.6L960.2 418.3L964.2 418.2L968.2 418.2L972.1 418.3L976.0 418.6L979.8 419.0L983.5 419.7L987.1 420.5L990.6 421.6L994.0 423.0L997.3 424.6L1000.5 426.5L1003.6 428.6L1006.7 430.9L1009.6 433.3L1012.4 435.9L1015.2 438.7L1017.8 441.6L1020.4 444.6L1022.9 447.7L1025.3 450.9L1027.6 454.2L1029.8 457.4L1031.9 460.7L1034.0 464.1L1036.0 467.5L1037.9 470.9L1039.7 474.4L1041.5 477.9L1043.1 481.4L1044.8 485.0L1046.4 488.5L1047.9 492.2L1049.4 495.8L1050.8 499.5L1052.2 503.2L1053.5 506.9L1054.8 510.6L1056.0 514.4L1057.3 518.2L1058.5 522.0L1059.7 525.8L1060.8 529.6L1062.0 533.4L1063.1 537.2L1064.2 541.1L1065.3 544.9L1066.4 548.8L1067.5 552.6L1068.6 556.5L1069.7 560.3L1070.8 564.2L1071.8 568.0L1072.9 571.9L1074.0 575.7L1075.0 579.6L1076.1 583.5L1077.1 587.3L1078.1 591.2L1079.2 595.0L1080.2 598.9L1081.2 602.8L1082.3 606.6L1083.3 610.5L1084.3 614.4L1085.3 618.3L1086.3 622.1L1087.3 626.0L1088.3 629.9L1089.3 633.7L1090.3 637.6L1091.3 641.5L1092.3 645.4L1093.3 649.3L1094.2 653.1L1095.2 657.0L1096.2 660.9L1097.2 664.8L1098.1 668.6L1099.1 672.5L1100.1 676.4L1101.0 680.3L1102.0 684.2L1103.0 688.1L1103.9 691.9L1104.9 695.8L1105.9 699.7L1106.8 703.6L1107.8 707.5L1108.7 711.4L1109.7 715.2L1110.7 719.1L1111.6 723.0L1112.6 726.9L1113.5 730.8L1114.5 734.7L1115.5 738.5L1116.4 742.4L1117.4 746.3L1118.4 750.2L1119.3 754.1L1120.3 758.0L1121.3 761.8L1122.2 765.7L1123.2 769.6L1124.2 773.5L1125.2 777.4L1126.1 781.2L1127.1 785.1L1128.1 789.0L1129.1 792.9L1130.1 796.7L1131.1 800.6L1132.1 804.5L1133.1 808.4L1134.1 812.2L1135.1 816.1L1136.1 820.0L1137.1 823.9L1138.1 827.7L1139.2 831.6L1140.2 835.5L1141.2 839.3L1142.3 843.2L1143.3 847.0L1144.4 850.9L1145.4 854.8L1146.5 858.6L1147.5 862.5L1148.6 866.3L1149.7 870.2L1150.8 874.0L1151.9 877.9L1153.0 881.7L1154.1 885.6L1155.2 889.4L1156.3 893.3L1157.4 897.1L1158.5 901.0L1159.7 904.8L1160.8 908.6L1162.0 912.5L1163.1 916.3L1164.3 920.1L1165.5 924.0L1166.7 927.8L1167.8 931.6L1169.0 935.4L1170.3 939.3L1171.5 943.1L1172.7 946.9L1174.0 950.7L1175.3 954.5L1176.5 958.3L1177.9 962.1L1179.2 965.9L1180.5 969.7L1181.9 973.4L1183.3 977.2L1184.7 981.0L1186.1 984.7L1187.6 988.5L1189.0 992.2L1190.5 995.9L1192.1 999.7L1193.6 1003.4L1195.2 1007.1L1196.8 1010.8L1198.5 1014.4L1200.2 1018.1L1201.9 1021.7L1203.7 1025.4L1205.5 1029.0L1207.3 1032.6L1209.2 1036.2L1211.1 1039.8L1213.0 1043.4L1215.0 1046.9L1217.0 1050.5L1219.1 1054.0L1221.2 1057.5L1223.5 1060.9L1225.7 1064.3L1228.1 1067.7L1230.5 1070.9L1233.1 1074.1L1235.7 1077.3L1238.5 1080.3L1241.3 1083.2L1244.2 1086.1L1247.2 1088.8L1250.3 1091.5L1253.5 1094.0L1256.8 1096.5L1260.1 1098.8L1263.5 1101.1L1266.9 1103.3L1270.5 1105.3L1274.0 1107.3L1277.6 1109.2L1281.3 1111.0L1285.0 1112.7L1288.7 1114.3L1292.5 1115.8L1296.3 1117.3L1300.1 1118.6L1304.0 1119.9L1307.8 1121.0L1311.7 1122.1L1315.6 1123.1L1319.5 1124.1L1323.4 1125.0L1327.4 1125.8L1331.3 1126.6L1335.3 1127.3L1339.2 1127.9L1343.2 1128.5L1347.2 1129.0L1351.2 1129.5L1355.2 1129.9L1359.2 1130.3L1363.3 1130.7L1367.3 1131.0L1371.3 1131.3L1375.4 1131.5L1379.4 1131.8L1383.5 1132.0L1387.5 1132.1L1391.5 1132.3L1395.6 1132.4L1399.6 1132.6L1403.7 1132.7L1407.7 1132.8L1411.7 1132.9L1415.8 1133.0L1419.8 1133.2L1423.8 1133.3L1427.8 1133.4L1431.8 1133.6L1435.8 1133.7L1439.8 1133.8L1443.8 1134.0L1447.8 1134.1L1451.8 1134.3L1455.7 1134.4L1459.7 1134.6L1463.7 1134.7L1467.7 1134.9L1471.7 1135.1L1475.6 1135.2L1479.6 1135.4L1483.6 1135.5L1487.6 1135.7L1491.5 1135.8L1495.5 1135.9L1499.5 1136.1L1503.5 1136.2L1507.5 1136.3L1511.4 1136.4L1515.4 1136.6L1519.4 1136.7L1523.4 1136.8L1527.4 1136.8L1531.4 1136.9L1535.4 1137.0L1539.4 1137.0L1543.4 1137.1L1547.4 1137.1L1551.5 1137.1L1555.5 1137.1L1559.5 1137.1L1563.6 1137.1L1567.6 1137.1L1570.7 1137.0A2.65 2.65 0 0 0 1570.7 1131.7L1567.6 1131.8L1563.5 1131.8L1559.5 1131.8L1555.5 1131.8L1551.5 1131.8L1547.5 1131.8L1543.5 1131.8L1539.5 1131.7L1535.5 1131.7L1531.5 1131.6L1527.5 1131.5L1523.5 1131.5L1519.5 1131.4L1515.6 1131.3L1511.6 1131.1L1507.6 1131.0L1503.6 1130.9L1499.7 1130.8L1495.7 1130.6L1491.7 1130.5L1487.8 1130.4L1483.8 1130.2L1479.8 1130.1L1475.8 1129.9L1471.9 1129.8L1467.9 1129.6L1463.9 1129.5L1459.9 1129.3L1456.0 1129.1L1452.0 1129.0L1448.0 1128.8L1444.0 1128.7L1440.0 1128.5L1436.0 1128.4L1432.0 1128.3L1428.0 1128.1L1424.0 1128.0L1419.9 1127.9L1415.9 1127.7L1411.9 1127.6L1407.9 1127.5L1403.8 1127.4L1399.8 1127.3L1395.8 1127.1L1391.7 1127.0L1387.7 1126.8L1383.7 1126.7L1379.7 1126.5L1375.7 1126.2L1371.7 1126.0L1367.7 1125.7L1363.7 1125.4L1359.7 1125.0L1355.8 1124.7L1351.8 1124.2L1347.9 1123.8L1344.0 1123.2L1340.0 1122.7L1336.1 1122.0L1332.3 1121.3L1328.4 1120.6L1324.5 1119.8L1320.7 1118.9L1316.9 1118.0L1313.1 1116.9L1309.4 1115.8L1305.6 1114.7L1301.9 1113.4L1298.2 1112.0L1294.6 1110.6L1290.9 1109.1L1287.3 1107.5L1283.8 1105.8L1280.3 1104.1L1276.8 1102.2L1273.4 1100.3L1270.0 1098.2L1266.7 1096.1L1263.5 1093.9L1260.3 1091.6L1257.2 1089.3L1254.2 1086.8L1251.3 1084.3L1248.4 1081.6L1245.7 1078.9L1243.0 1076.1L1240.4 1073.2L1237.9 1070.2L1235.5 1067.1L1233.2 1064.0L1230.9 1060.7L1228.8 1057.5L1226.6 1054.1L1224.6 1050.7L1222.5 1047.3L1220.6 1043.8L1218.6 1040.3L1216.8 1036.8L1214.9 1033.2L1213.1 1029.7L1211.3 1026.1L1209.5 1022.5L1207.8 1018.9L1206.2 1015.3L1204.5 1011.7L1202.9 1008.1L1201.3 1004.4L1199.7 1000.8L1198.2 997.1L1196.7 993.4L1195.2 989.8L1193.7 986.1L1192.3 982.4L1190.9 978.6L1189.5 974.9L1188.1 971.2L1186.7 967.4L1185.4 963.7L1184.1 959.9L1182.8 956.2L1181.5 952.4L1180.3 948.6L1179.0 944.8L1177.8 941.0L1176.6 937.2L1175.3 933.4L1174.1 929.6L1173.0 925.8L1171.8 922.0L1170.6 918.2L1169.4 914.4L1168.3 910.6L1167.1 906.7L1166.0 902.9L1164.9 899.1L1163.7 895.3L1162.6 891.4L1161.5 887.6L1160.4 883.8L1159.3 879.9L1158.2 876.1L1157.1 872.3L1156.0 868.4L1155.0 864.6L1153.9 860.7L1152.8 856.9L1151.8 853.0L1150.7 849.2L1149.7 845.3L1148.6 841.5L1147.6 837.6L1146.6 833.8L1145.5 829.9L1144.5 826.0L1143.5 822.2L1142.5 818.3L1141.5 814.4L1140.5 810.6L1139.5 806.7L1138.5 802.8L1137.5 799.0L1136.5 795.1L1135.5 791.2L1134.5 787.4L1133.5 783.5L1132.5 779.6L1131.6 775.7L1130.6 771.9L1129.6 768.0L1128.6 764.1L1127.7 760.2L1126.7 756.4L1125.7 752.5L1124.8 748.6L1123.8 744.7L1122.8 740.8L1121.9 737.0L1120.9 733.1L1119.9 729.2L1119.0 725.3L1118.0 721.4L1117.1 717.5L1116.1 713.7L1115.1 709.8L1114.2 705.9L1113.2 702.0L1112.3 698.1L1111.3 694.2L1110.3 690.4L1109.4 686.5L1108.4 682.6L1107.4 678.7L1106.5 674.8L1105.5 670.9L1104.5 667.0L1103.6 663.2L1102.6 659.3L1101.6 655.4L1100.6 651.5L1099.6 647.6L1098.7 643.7L1097.7 639.9L1096.7 636.0L1095.7 632.1L1094.7 628.2L1093.7 624.3L1092.7 620.5L1091.7 616.6L1090.7 612.7L1089.7 608.8L1088.6 605.0L1087.6 601.1L1086.6 597.2L1085.6 593.3L1084.5 589.5L1083.5 585.6L1082.4 581.7L1081.4 577.9L1080.3 574.0L1079.3 570.1L1078.2 566.3L1077.1 562.4L1076.0 558.5L1075.0 554.7L1073.9 550.8L1072.8 546.9L1071.7 543.1L1070.5 539.2L1069.4 535.4L1068.3 531.5L1067.1 527.7L1066.0 523.8L1064.8 520.0L1063.6 516.1L1062.3 512.3L1061.0 508.5L1059.7 504.7L1058.4 500.9L1056.9 497.1L1055.5 493.4L1054.0 489.7L1052.4 485.9L1050.8 482.3L1049.1 478.6L1047.4 475.0L1045.6 471.3L1043.7 467.8L1041.7 464.2L1039.6 460.7L1037.5 457.3L1035.2 453.8L1032.9 450.4L1030.5 447.1L1027.9 443.8L1025.3 440.6L1022.5 437.4L1019.7 434.4L1016.7 431.5L1013.7 428.7L1010.5 426.0L1007.1 423.6L1003.7 421.4L1000.1 419.3L996.5 417.5L992.7 416.0L988.7 414.8L984.7 413.8L980.7 413.1L976.6 412.6L972.4 412.3L968.3 412.2L964.1 412.2L959.9 412.3L955.8 412.6L951.7 412.9L947.7 413.3L943.7 413.7L939.7 414.1L935.7 414.5L931.8 414.9L927.9 415.2L924.0 415.5L920.1 415.7L916.1 415.8L912.2 415.9L908.2 416.0L904.2 416.1L900.2 416.3L896.1 416.5L892.1 416.8L888.0 417.2L883.9 417.7L879.8 418.4L875.7 419.2L871.6 420.3L867.6 421.6L863.6 423.0L859.7 424.6L855.9 426.5L852.2 428.5L848.7 430.7L845.4 433.0L842.2 435.5L839.1 438.2L836.2 441.0L833.4 443.9L830.7 446.9L828.2 449.9L825.7 453.1L823.3 456.4L821.0 459.7L818.8 463.1L816.6 466.5L814.5 469.9L812.4 473.4L810.3 476.9L808.3 480.4L806.3 483.9L804.3 487.4L802.3 490.9L800.3 494.5L798.3 498.0L796.4 501.5L794.4 505.0L792.5 508.5L790.5 512.1L788.6 515.6L786.7 519.1L784.8 522.7L782.9 526.2L781.0 529.8L779.1 533.3L777.2 536.9L775.4 540.4L773.5 544.0L771.6 547.5L769.8 551.1L767.9 554.7L766.1 558.2L764.2 561.8L762.4 565.3L760.6 568.9L758.8 572.5L757.0 576.0L755.1 579.6L753.3 583.2L751.5 586.8L749.7 590.3L747.9 593.9L746.1 597.5L744.3 601.1L742.5 604.6L740.7 608.2L738.9 611.8L737.2 615.4L735.4 618.9L733.6 622.5L731.8 626.1L730.0 629.7L728.2 633.2L726.4 636.8L724.6 640.4L722.9 643.9L721.1 647.5L719.3 651.1L717.5 654.6L715.7 658.2L713.9 661.8L712.1 665.3L710.3 668.9L708.5 672.4L706.6 676.0L704.8 679.5L703.0 683.1L701.2 686.6L699.4 690.2L697.5 693.7L695.7 697.3L693.8 700.8L692.0 704.3L690.1 707.9L688.3 711.4L686.4 714.9L684.6 718.4L682.7 722.0L680.8 725.5L678.9 729.0L677.0 732.5L675.1 736.0L673.2 739.5L671.3 743.0L669.4 746.5L667.5 750.0L665.5 753.5L663.6 757.0L661.7 760.5L659.7 763.9L657.8 767.4L655.8 770.9L653.8 774.4L651.9 777.8L649.9 781.3L647.9 784.7L645.9 788.2L643.9 791.7L641.9 795.1L639.8 798.5L637.8 802.0L635.8 805.4L633.7 808.8L631.7 812.3L629.6 815.7L627.5 819.1L625.4 822.5L623.3 825.9L621.2 829.3L619.1 832.7L617.0 836.1L614.9 839.5L612.8 842.9L610.6 846.3L608.5 849.6L606.3 853.0L604.1 856.4L601.9 859.7L599.7 863.1L597.5 866.4L595.3 869.8L593.1 873.1L590.8 876.4L588.6 879.8L586.3 883.1L584.1 886.4L581.8 889.7L579.5 893.0L577.2 896.3L574.9 899.6L572.5 902.8L570.2 906.1L567.8 909.3L565.4 912.6L563.1 915.8L560.6 919.0L558.2 922.2L555.8 925.3L553.3 928.5L550.8 931.6L548.3 934.7L545.8 937.8L543.3 940.9L540.7 944.0L538.2 947.0L535.6 950.0L533.0 953.0L530.3 955.9L527.7 958.9L525.0 961.8L522.3 964.7L519.5 967.5L516.8 970.3L514.0 973.1L511.2 975.9L508.3 978.6L505.5 981.3L502.6 983.9L499.7 986.6L496.7 989.2L493.7 991.7L490.7 994.2L487.7 996.7L484.6 999.2L481.6 1001.6L478.4 1003.9L475.3 1006.3L472.1 1008.5L468.9 1010.8L465.6 1013.0L462.3 1015.1L459.0 1017.2L455.7 1019.3L452.3 1021.3L448.9 1023.3L445.4 1025.2L441.9 1027.1L438.4 1029.0L434.9 1030.8L431.3 1032.5L427.7 1034.2L424.1 1035.9L420.4 1037.5L416.7 1039.1L413.0 1040.6L409.3 1042.1L405.6 1043.5L401.8 1044.9L398.0 1046.2L394.2 1047.5L390.4 1048.8L386.6 1050.0L382.8 1051.1L378.9 1052.2L375.0 1053.3L371.2 1054.3L367.3 1055.2L363.4 1056.2L359.5 1057.0L355.6 1057.8L351.7 1058.6L347.7 1059.3L343.8 1060.0L339.9 1060.6L336.0 1061.2L332.0 1061.7L328.1 1062.2L324.2 1062.6L320.3 1063.0L316.3 1063.3L312.4 1063.6L308.5 1063.8L304.6 1064.0L300.6 1064.2L296.7 1064.3L292.8 1064.4L288.8 1064.5L284.9 1064.5L281.0 1064.5L277.0 1064.5L273.1 1064.4L269.1 1064.3L265.2 1064.2L261.2 1064.0L257.3 1063.9L253.3 1063.7L249.3 1063.5L245.3 1063.3L241.3 1063.0L237.3 1062.8L233.3 1062.5L229.3 1062.3L225.3 1062.0L221.3 1061.7L217.2 1061.4L213.2 1061.2L209.1 1060.9L205.1 1060.6Z" fill="#3a69c6"/>
</g>
<g fill="none" stroke-linecap="round">
<path d="M1208 138.75 H1294" stroke="#ee7522" stroke-width="5.6" stroke-dasharray="20 25.6"/>
<path d="M1208 200.60 H1294" stroke="#ee7522" stroke-width="5.3"/>
<path d="M1208 263.75 H1294" stroke="#3a69c6" stroke-width="5.6" stroke-dasharray="20 25.6"/>
<path d="M1208 326.50 H1294" stroke="#3a69c6" stroke-width="6.8"/>
</g>
<text class="b" y="150.1"><tspan x="1303.83" textLength="58.36" lengthAdjust="spacingAndGlyphs">PCL</tspan><tspan x="1365.40" dy="3.6" font-size="42.5">/</tspan><tspan x="1378.48" dy="-3.6" textLength="104.05" lengthAdjust="spacingAndGlyphs">empty</tspan></text>
<text class="b" y="212.5"><tspan x="1303.83" textLength="58.36" lengthAdjust="spacingAndGlyphs">PCL</tspan><tspan x="1365.40" dy="3.6" font-size="42.5">/</tspan><tspan x="1378.30" dy="-3.6" textLength="75.88" lengthAdjust="spacingAndGlyphs">Cum</tspan><tspan x="1455.38" textLength="31.07" lengthAdjust="spacingAndGlyphs">-6</tspan></text>
<text class="b" y="276.1"><tspan x="1303.83" textLength="58.36" lengthAdjust="spacingAndGlyphs">PCL</tspan><tspan x="1365.40" dy="3.6" font-size="42.5">/</tspan><tspan x="1380.13" dy="-3.6" textLength="58.25" lengthAdjust="spacingAndGlyphs">PCL</tspan><tspan x="1438.42" textLength="45.55" lengthAdjust="spacingAndGlyphs">-b-</tspan><tspan x="1486.30" textLength="64.00" lengthAdjust="spacingAndGlyphs">PEG</tspan><tspan x="1553.18" dy="3.6" font-size="42.5">/</tspan><tspan x="1567.17" dy="-3.6" textLength="104.15" lengthAdjust="spacingAndGlyphs">empty</tspan></text>
<text class="b" y="338.1"><tspan x="1303.83" textLength="58.36" lengthAdjust="spacingAndGlyphs">PCL</tspan><tspan x="1365.40" dy="3.6" font-size="42.5">/</tspan><tspan x="1380.13" dy="-3.6" textLength="58.25" lengthAdjust="spacingAndGlyphs">PCL</tspan><tspan x="1438.42" textLength="45.55" lengthAdjust="spacingAndGlyphs">-b-</tspan><tspan x="1486.30" textLength="64.00" lengthAdjust="spacingAndGlyphs">PEG</tspan><tspan x="1553.18" dy="3.6" font-size="42.5">/</tspan><tspan x="1567.00" dy="-3.6" textLength="75.94" lengthAdjust="spacingAndGlyphs">Cum</tspan><tspan x="1644.12" textLength="31.12" lengthAdjust="spacingAndGlyphs">-6</tspan></text>
<text x="186" y="135.6" text-anchor="end">3.000</text>
<text x="186" y="309.8" text-anchor="end">2.500</text>
<text x="186" y="483.9" text-anchor="end">2.000</text>
<text x="186" y="658.1" text-anchor="end">1.500</text>
<text x="186" y="832.3" text-anchor="end">1.000</text>
<text x="186" y="1006.4" text-anchor="end">0.500</text>
<text x="186" y="1180.6" text-anchor="end">0.000</text>
<text transform="translate(224.6 1234.7) scale(1.015 1)" text-anchor="middle">350</text>
<text transform="translate(392.9 1234.7) scale(1.015 1)" text-anchor="middle">375</text>
<text transform="translate(560.5 1234.7) scale(1.015 1)" text-anchor="middle">400</text>
<text transform="translate(729.6 1234.7) scale(1.015 1)" text-anchor="middle">425</text>
<text transform="translate(899.1 1234.7) scale(1.015 1)" text-anchor="middle">450</text>
<text transform="translate(1066.5 1234.7) scale(1.015 1)" text-anchor="middle">475</text>
<text transform="translate(1234.8 1234.7) scale(1.015 1)" text-anchor="middle">500</text>
<text transform="translate(1402.8 1234.7) scale(1.015 1)" text-anchor="middle">525</text>
<text transform="translate(1571.3 1234.7) scale(1.015 1)" text-anchor="middle">550</text>
<text class="b" x="896" y="1291.6" text-anchor="middle" textLength="106" lengthAdjust="spacingAndGlyphs">λ [nm]</text>
<text class="b" transform="translate(73 645.4) rotate(-90)" text-anchor="middle" textLength="69" lengthAdjust="spacingAndGlyphs">Abs.</text>
</g>
</svg></body></html>
